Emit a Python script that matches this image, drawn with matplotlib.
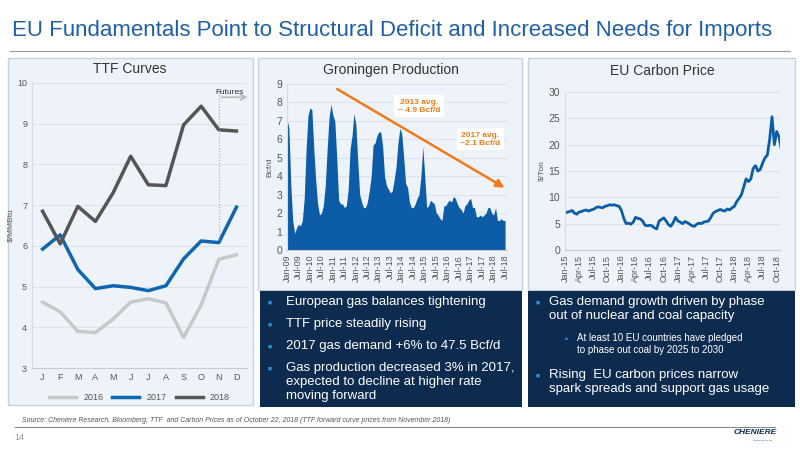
import numpy as np
import matplotlib.pyplot as plt
from matplotlib.patches import Rectangle

plt.rcParams['font.family'] = ['Liberation Sans', 'DejaVu Sans']

W, H = 800, 450

# ---- data ----
months = ["J", "F", "M", "A", "M", "J", "J", "A", "S", "O", "N", "D"]
ttf_2016 = [4.62, 4.38, 3.9, 3.87, 4.2, 4.62, 4.7, 4.6, 3.75, 4.55, 5.67, 5.78]
ttf_2017 = [5.92, 6.27, 5.42, 4.95, 5.02, 4.98, 4.9, 5.02, 5.68, 6.12, 6.08, 6.95]
ttf_2018 = [6.85, 6.05, 6.97, 6.6, 7.3, 8.2, 7.5, 7.48, 8.97, 9.43, 8.85, 8.82]

groningen = [
    7.1, 6.6, 3.5, 1.6, 0.9, 1.2, 1.4, 1.3, 1.6, 2.8, 5.5, 7.3,
    7.7, 7.6, 5.5, 3.8, 2.5, 1.9, 2.0, 2.4, 3.5, 5.5, 7.2, 7.9,
    7.3, 7.0, 5.0, 2.7, 2.5, 2.5, 2.3, 2.4, 3.3, 5.5, 6.2, 7.4,
    6.8, 4.8, 3.0, 2.6, 2.3, 2.3, 2.6, 3.2, 4.0, 5.7, 5.8, 6.2,
    6.4, 6.4, 5.6, 4.0, 3.5, 3.3, 3.1, 3.2, 3.8, 4.5, 5.8, 6.6,
    6.3, 5.0, 3.6, 3.4, 2.6, 2.3, 2.3, 2.5, 2.8, 3.0, 4.0, 5.6,
    4.0, 2.3, 2.4, 2.7, 2.6, 2.5, 2.0, 1.9, 1.7, 1.6, 2.4, 2.4,
    2.6, 2.7, 2.6, 2.9, 2.8, 2.5, 2.3, 2.2, 2.0, 2.4, 2.5, 2.7,
    2.8, 2.3, 2.3, 1.8, 1.8, 1.9, 1.8, 1.9, 2.0, 2.3, 2.3, 2.0,
    1.9, 2.3, 1.6, 1.6, 1.7, 1.6, 1.6,
]
gron_ticks = ["Jan-09", "Jul-09", "Jan-10", "Jul-10", "Jan-11", "Jul-11", "Jan-12", "Jul-12",
              "Jan-13", "Jul-13", "Jan-14", "Jul-14", "Jan-15", "Jul-15", "Jan-16", "Jul-16",
              "Jan-17", "Jul-17", "Jan-18", "Jul-18"]

# half-monthly EU carbon price, Jan-15 .. Oct-18
carbon = [
    7.0, 7.2, 7.3, 7.5, 7.0, 6.8, 7.2, 7.3, 7.5, 7.6, 7.4, 7.6, 7.7, 8.0, 8.2, 8.1, 8.0, 8.3, 8.4, 8.6, 8.5, 8.6, 8.4, 8.3,
    7.5, 6.0, 5.0, 5.1, 4.9, 5.3, 6.2, 6.0, 5.9, 5.5, 4.7, 4.6, 4.7, 4.6, 4.2, 4.0, 5.5, 5.8, 6.1, 5.5, 4.8, 4.5, 5.2, 6.2,
    5.5, 5.3, 5.0, 5.4, 5.2, 4.9, 4.6, 4.5, 4.9, 5.1, 5.0, 5.3, 5.4, 5.5, 6.2, 7.0, 7.3, 7.5, 7.7, 7.5, 7.4, 7.8, 7.6, 8.0,
    8.3, 9.2, 9.8, 10.5, 12.0, 13.5, 13.0, 13.5, 15.5, 16.0, 15.0, 15.3, 16.5, 17.5, 18.0, 21.0, 25.3, 20.0, 22.5, 21.5, 19.0,
]
carbon_ticks = ["Jan-15", "Apr-15", "Jul-15", "Oct-15", "Jan-16", "Apr-16", "Jul-16", "Oct-16",
                "Jan-17", "Apr-17", "Jul-17", "Oct-17", "Jan-18", "Apr-18", "Jul-18", "Oct-18"]

bullets_left = ["European gas balances tightening", "TTF price steadily rising",
                "2017 gas demand +6% to 47.5 Bcf/d",
                "Gas production decreased 3% in 2017,\nexpected to decline at higher rate\nmoving forward"]

BLUE = "#0f66b0"
NAVY = "#0c2b4f"
PANEL = "#eef3f9"
TXT = "#333333"

fig = plt.figure(figsize=(8, 4.5), dpi=100)
fig.patch.set_facecolor("white")


def px_axes(x0, y0, x1, y1):
    ax = fig.add_axes([x0 / W, 1 - y1 / H, (x1 - x0) / W, (y1 - y0) / H])
    ax.set_zorder(2)
    return ax


def box(x0, y0, x1, y1, fc, ec="none"):
    fig.patches.append(Rectangle((x0 / W, 1 - y1 / H), (x1 - x0) / W, (y1 - y0) / H,
                                 transform=fig.transFigure, fc=fc, ec=ec, lw=1, zorder=-1))


def ftext(x, y, s, **kw):
    fig.text(x / W, 1 - y / H, s, **kw)


def style(ax):
    ax.set_facecolor(PANEL)
    for s in ["top", "right"]:
        ax.spines[s].set_visible(False)
    ax.spines["left"].set_color("#d8dde3")
    ax.spines["bottom"].set_color("#c8cdd3")
    ax.grid(axis="y", color="#dde3ea", lw=0.8)
    ax.set_axisbelow(True)
    ax.tick_params(length=0, labelsize=6.5, colors="#555555")


# title
ftext(12, 36, "EU Fundamentals Point to Structural Deficit and Increased Needs for Imports",
      fontsize=16, color="#1f5fa8")
fig.add_artist(plt.Line2D([10 / W, 790 / W], [1 - 51 / H] * 2, color="#999999", lw=0.8))

# panels
box(8, 58, 253, 405, PANEL, "#c5d3e0")
box(258, 58, 522, 290, PANEL, "#c5d3e0")
box(528, 58, 795, 290, PANEL, "#c5d3e0")
box(260, 291, 522, 407, NAVY)
box(528, 291, 795, 407, NAVY)

# --- TTF ---
ax1 = px_axes(32, 83, 247, 368)
style(ax1)
x = np.arange(12)
ax1.plot(x, ttf_2016, color="#c8c8c8", lw=2.5, label="2016")
ax1.plot(x, ttf_2017, color=BLUE, lw=2.5, label="2017")
ax1.plot(x, ttf_2018, color="#555555", lw=2.5, label="2018")
ax1.set_ylim(3, 10)
ax1.set_xlim(-0.6, 11.6)
ax1.set_xticks(x, months)
ax1.set_ylabel("$/MMBtu", fontsize=6, color="#555555", labelpad=2)
ax1.axvline(10, ymin=(6.15 - 3) / 7, ymax=(9.8 - 3) / 7, color="#aaaaaa", ls=":", lw=0.8)
ax1.annotate("", xy=(11.8, 9.65), xytext=(10, 9.65),
             arrowprops=dict(arrowstyle="->", color="#bbbbbb", lw=1.2), annotation_clip=False)
ax1.text(10.6, 9.72, "Futures", fontsize=6, color="#333333", ha="center")
ax1.legend(loc="upper center", bbox_to_anchor=(0.5, -0.06), ncol=3, frameon=False,
           fontsize=6.5, handlelength=3, columnspacing=1.0, labelcolor="#555555")
ftext(130, 73, "TTF Curves", fontsize=10, color=TXT, ha="center")

# --- Groningen ---
ax2 = px_axes(287, 84, 507, 250)
style(ax2)
gx = np.arange(len(groningen))
ax2.fill_between(gx, groningen, color="#0c5ca8", lw=0)
ax2.set_ylim(0, 9)
ax2.set_yticks(range(10))
ax2.set_xticks(np.arange(0, len(gron_ticks) * 6, 6), gron_ticks, rotation=90)
ax2.set_xlim(0, 115)
ax2.set_ylabel("Bcf/d", fontsize=6, color="#555555", labelpad=2)
ax2.tick_params(axis="y", labelsize=7.5)
ax2.annotate("", xy=(115, 3.3), xytext=(25, 8.8),
             arrowprops=dict(arrowstyle="-|>", color="#f07a1a", lw=1.8, mutation_scale=12),
             annotation_clip=False)
ax2.text(69, 7.8, "2013 avg.\n~ 4.9 Bcf/d", fontsize=6, color="#f07a1a", fontweight="bold",
         ha="center", va="center", bbox=dict(fc="white", ec="none", pad=2.5))
ax2.text(101, 6.0, "2017 avg.\n~2.1 Bcf/d", fontsize=6, color="#f07a1a", fontweight="bold",
         ha="center", va="center", bbox=dict(fc="white", ec="none", pad=2.5))
ftext(391, 74, "Groningen Production", fontsize=10, color=TXT, ha="center")

# --- Carbon ---
ax3 = px_axes(565, 92, 780, 250)
style(ax3)
cx = np.arange(len(carbon)) / 2
ax3.plot(cx, carbon, color="#0c5ca8", lw=2)
ax3.set_ylim(0, 30)
ax3.set_xlim(0, 45.7)
ax3.set_yticks(range(0, 31, 5))
ax3.set_xticks(np.arange(0, 46, 3), carbon_ticks, rotation=90)
ax3.set_ylabel("$/Ton", fontsize=6, color="#555555", labelpad=2)
ax3.tick_params(axis="y", labelsize=7.5)
ftext(662, 75, "EU Carbon Price", fontsize=10, color=TXT, ha="center")

# --- text boxes ---
sq = "#2a8fd6"
ys = [303, 325, 347, 369]
for y, s in zip(ys, bullets_left):
    ftext(268, y, "\u25a0", fontsize=5, color=sq, va="center")
    ftext(286, y - 7, s, fontsize=9.5, color="white", va="top", linespacing=1.2)

ftext(536, 303, "\u25a0", fontsize=5, color=sq, va="center")
ftext(549, 296, "Gas demand growth driven by phase\nout of nuclear and coal capacity",
      fontsize=9.5, color="white", va="top", linespacing=1.2)
ftext(565, 338, "\u25a0", fontsize=3.5, color=sq, va="center")
ftext(577, 333, "At least 10 EU countries have pledged\nto phase out coal by 2025 to 2030",
      fontsize=7, color="white", va="top", linespacing=1.3)
ftext(536, 376, "\u25a0", fontsize=5, color=sq, va="center")
ftext(549, 369, "Rising  EU carbon prices narrow\nspark spreads and support gas usage",
      fontsize=9.5, color="white", va="top", linespacing=1.2)

# footer
ftext(22, 421, "Source: Cheniere Research, Bloomberg; TTF  and Carbon Prices as of October 22, 2018 "
      "(TTF forward curve prices from November 2018)", fontsize=5, style="italic",
      color="#555555", va="center")
fig.add_artist(plt.Line2D([15 / W, 775 / W], [1 - 427 / H] * 2, color="#888888", lw=0.8))
ftext(14, 437, "14", fontsize=6.5, color="#999999", va="center")
ftext(777, 433, "CHENIERE", fontsize=6, color=NAVY, fontweight="bold", style="italic",
      ha="right", va="center")
ftext(773, 442, "~~~~~", fontsize=5, color="#2a8fd6", ha="right", va="center")

fig.savefig("out.png", dpi=100, facecolor="white")
